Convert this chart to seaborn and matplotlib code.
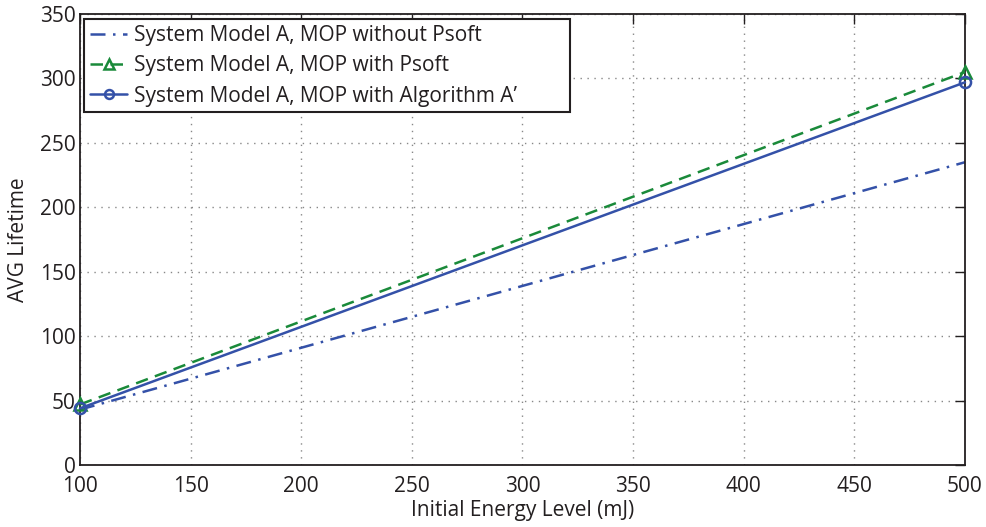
import matplotlib
matplotlib.use("Agg")
import matplotlib.pyplot as plt
import seaborn as sns
import pandas as pd

energy = [100, 500]
without_psoft = [43, 235]
with_psoft = [47, 305]
with_alg = [44, 297]
labels = ["System Model A, MOP without Psoft",
          "System Model A, MOP with Psoft",
          "System Model A, MOP with Algorithm A\u2019"]
xticks = [100, 150, 200, 250, 300, 350, 400, 450, 500]
yticks = [0, 50, 100, 150, 200, 250, 300, 350]

sns.set_style("white")
plt.rcParams['font.family'] = ['Open Sans', 'DejaVu Sans']

fig = plt.figure(figsize=(9.86, 5.27), dpi=100)
ax = fig.add_axes([0.0811, 0.1176, 0.8976, 0.8558])

blue = "#3451A8"
green = "#1A8A3A"
txt = "#231F20"

df1 = pd.DataFrame({"x": energy, "y": without_psoft})
df2 = pd.DataFrame({"x": energy, "y": with_psoft})
df3 = pd.DataFrame({"x": energy, "y": with_alg})

sns.lineplot(data=df1, x="x", y="y", ax=ax, color=blue, lw=1.8,
             linestyle=(0, (6, 3, 1, 3)), label=labels[0])
sns.lineplot(data=df2, x="x", y="y", ax=ax, color=green, lw=1.8,
             linestyle=(0, (5, 3)), marker="^", markersize=9,
             markerfacecolor="none", markeredgecolor=green, markeredgewidth=1.8,
             label=labels[1], clip_on=False, zorder=4)
sns.lineplot(data=df3, x="x", y="y", ax=ax, color=blue, lw=1.8,
             marker="o", markersize=8, markerfacecolor="none",
             markeredgecolor=blue, markeredgewidth=1.8, label=labels[2],
             clip_on=False, zorder=5)

ax.set_xlim(100, 500)
ax.set_ylim(0, 350)
ax.set_xticks(xticks)
ax.set_yticks(yticks)
ax.tick_params(direction="in", length=7, width=1, labelsize=15, colors=txt,
               top=True, right=True)
ax.tick_params(axis="x", pad=8)
ax.tick_params(axis="y", pad=3)
for s in ax.spines.values():
    s.set_color(txt)
    s.set_linewidth(1.3)
    s.set_visible(True)
ax.grid(True, linestyle=(0, (1, 4)), color="#888888", linewidth=1)
ax.set_xlabel("Initial Energy Level (mJ)", fontsize=15, labelpad=2, color=txt)
ax.set_ylabel("AVG Lifetime", fontsize=15, labelpad=8, color=txt)

leg = ax.legend(loc="upper left", bbox_to_anchor=(0.0045, 0.0, 0.5492, 0.989),
                mode="expand", fontsize=15, frameon=True, fancybox=False,
                borderaxespad=0.0, handlelength=1.8, handletextpad=0.3,
                labelspacing=0.45, borderpad=0.28, markerscale=0.8)
leg.get_frame().set_edgecolor(txt)
leg.get_frame().set_linewidth(1.5)
leg.get_frame().set_alpha(1)
for t in leg.get_texts():
    t.set_color(txt)

fig.savefig("out.png", dpi=100)
